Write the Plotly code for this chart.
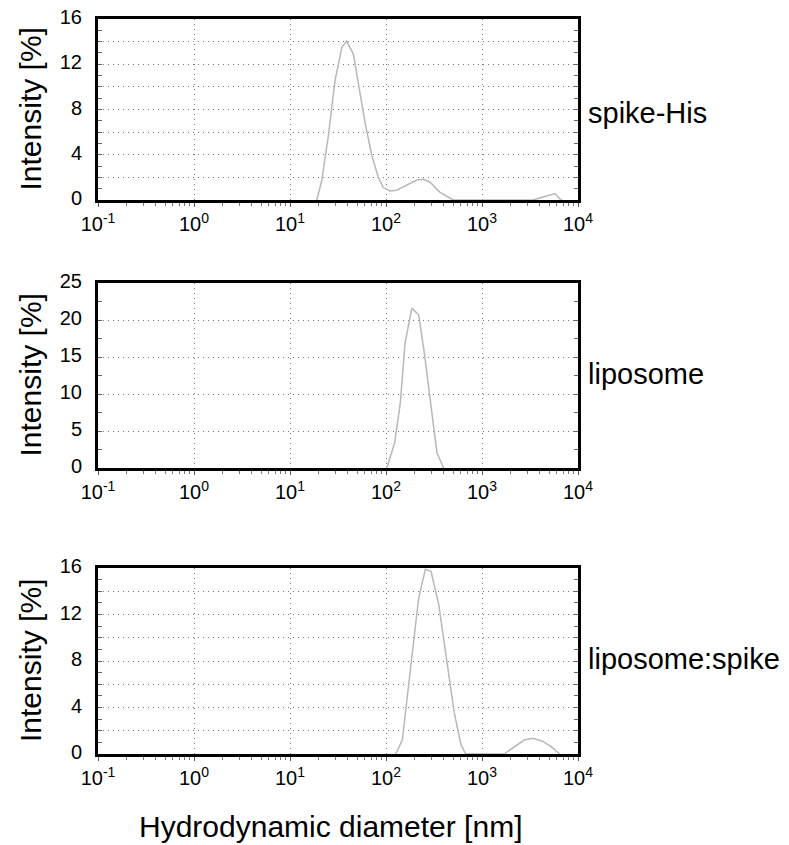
import plotly.graph_objects as go

# DLS size distributions
d_spike = [19, 21.4, 25.1, 29.5, 34.7, 38.9, 45.7, 51.3, 60.3, 70.8, 83.2, 93.3, 110, 129,
           166, 209, 245, 288, 363, 468, 500, 3390, 4365, 5754, 6457, 6760]
i_spike = [0, 1.7, 5.7, 10.6, 13.5, 14.05, 12.9, 10.3, 6.9, 4.0, 2.0, 1.1, 0.8, 0.86,
           1.37, 1.77, 1.83, 1.57, 0.7, 0.1, 0, 0, 0.3, 0.57, 0.1, 0]

d_lipo = [102, 123, 141, 158, 186, 219, 251, 295, 339, 398]
i_lipo = [0, 3.4, 8.8, 16.9, 21.6, 20.7, 15.5, 7.9, 2.1, 0]

d_mix = [126, 148, 182, 219, 257, 295, 355, 437, 513, 603, 676, 1698, 2188, 2754,
         3388, 4266, 5248, 6166, 6457]
i_mix = [0, 1.2, 7.7, 13.4, 15.9, 15.7, 12.8, 7.7, 3.6, 0.8, 0, 0, 0.63, 1.2,
         1.35, 1.1, 0.63, 0.2, 0]

labels = ["spike-His", "liposome", "liposome:spike"]
y_max = [16, 25, 16]
y_step = [2, 5, 2]      # gridline spacing
y_label_step = [4, 5, 4]
y_minor = [1, 2.5, 1]

decades = [-1, 0, 1, 2, 3, 4]
x_ticktext = ["10<sup>%d</sup>" % p for p in decades]

FONT = "Liberation Sans, Arial, sans-serif"
W, H = 789, 845
# the page body adds an 8px margin, so positions are shifted back by 8px
x_dom = [90 / W, 570 / W]
panels_px = [(11, 192), (275, 460), (560, 746)]

fig = go.Figure()
series = [(d_spike, i_spike), (d_lipo, i_lipo), (d_mix, i_mix)]
for k, (xs, ys) in enumerate(series):
    fig.add_trace(go.Scatter(x=xs, y=ys, mode="lines", showlegend=False,
                             line=dict(color="#b8b8b8", width=1.5),
                             xaxis="x" if k == 0 else "x%d" % (k + 1),
                             yaxis="y" if k == 0 else "y%d" % (k + 1)))

minor_x = [m * 10 ** p for p in decades[:-1] for m in range(2, 10)]

layout = dict(width=W, height=H, margin=dict(l=0, r=0, t=0, b=0, autoexpand=False),
              plot_bgcolor="white", paper_bgcolor="white",
              font=dict(family=FONT, color="black"))
annotations = []
for k in range(3):
    top, bot = panels_px[k]
    ydom = [1 - bot / H, 1 - top / H]
    sx = "" if k == 0 else str(k + 1)
    yvals = [v * y_step[k] for v in range(int(y_max[k] / y_step[k]) + 1)]
    ytext = [("%g" % v) if v % y_label_step[k] == 0 else "" for v in yvals]
    yminor = [v * y_minor[k] for v in range(int(y_max[k] / y_minor[k]) + 1)]
    layout["xaxis" + sx] = dict(
        domain=x_dom, anchor="y" + sx, type="log", range=[-1, 4], automargin=False,
        tickmode="array", tickvals=[10 ** p for p in decades], ticktext=x_ticktext,
        ticks="outside", ticklen=4, tickcolor="#555", tickwidth=1,
        minor=dict(tickmode="array", tickvals=minor_x, ticks="outside", ticklen=3,
                   tickcolor="#777", showgrid=False),
        showgrid=True, gridcolor="#777", griddash="1px,4px", gridwidth=1,
        showline=True, linecolor="black", linewidth=3, mirror=True,
        tickfont=dict(size=20, family=FONT, color="black"), zeroline=False,
        ticklabelstandoff=0, ticklabeloverflow="allow",
    )
    layout["yaxis" + sx] = dict(
        domain=ydom, anchor="x" + sx, range=[0, y_max[k]], automargin=False,
        tickmode="array", tickvals=yvals, ticktext=ytext,
        ticks="inside", ticklen=4, tickcolor="#666", tickwidth=1,
        minor=dict(tickmode="array", tickvals=yminor, ticks="inside", ticklen=4,
                   tickcolor="#666", showgrid=False),
        showgrid=True, gridcolor="#777", griddash="1px,4px", gridwidth=1,
        showline=True, linecolor="black", linewidth=3, mirror="allticks",
        tickfont=dict(size=20, family=FONT, color="black"), zeroline=False,
        ticklabelstandoff=9, ticklabelshift=-2, ticklabeloverflow="allow",
    )
    mid = 1 - (top + bot) / 2 / H
    annotations.append(dict(text="Intensity [%]", xref="paper", yref="paper",
                            x=22 / W, y=mid, textangle=-90, showarrow=False,
                            xanchor="center", yanchor="middle",
                            font=dict(size=30, family=FONT, color="black")))
    annotations.append(dict(text=labels[k], xref="paper", yref="paper",
                            x=578 / W, y=mid + (-4 / H if k == 0 else 2 / H),
                            showarrow=False, xanchor="left", yanchor="middle",
                            font=dict(size=29, family=FONT, color="black")))

annotations.append(dict(text="Hydrodynamic diameter [nm]", xref="paper", yref="paper",
                        x=322 / W, y=1 - 818 / H, showarrow=False,
                        xanchor="center", yanchor="middle",
                        font=dict(size=30, family=FONT, color="black")))
layout["annotations"] = annotations
fig.update_layout(**layout)

fig.write_html("out.html")
